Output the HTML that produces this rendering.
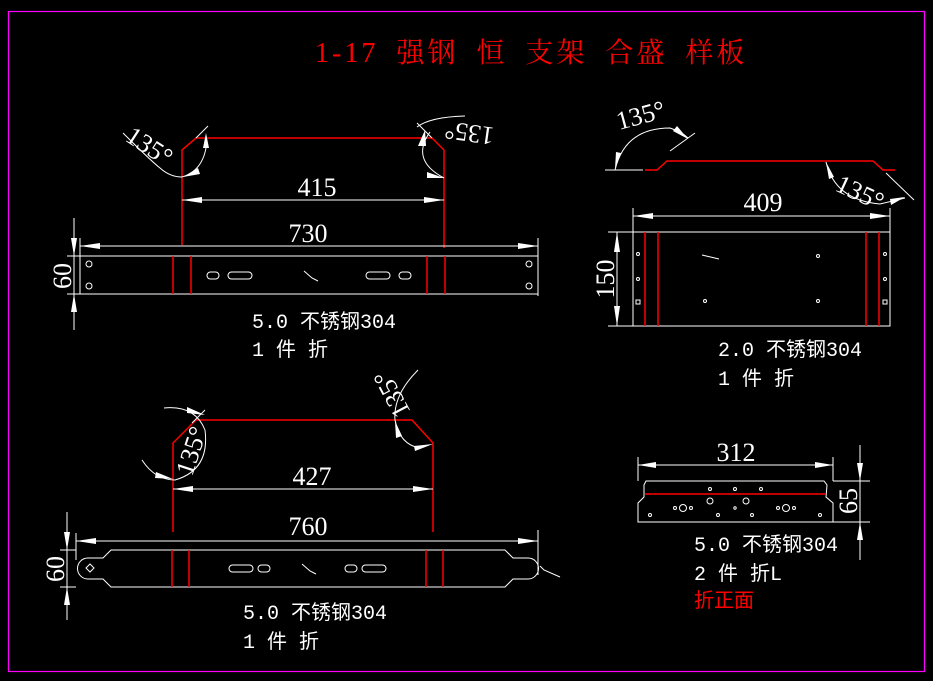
<!DOCTYPE html>
<html><head><meta charset="utf-8"><style>
html,body{margin:0;padding:0;background:#000;}
svg{display:block}
.w{stroke:#fff;stroke-width:1;fill:none}
.r{stroke:#f00;stroke-width:1.5;fill:none}
.d{font-family:"Liberation Serif",serif;font-size:26px;fill:#fff}
.n{font-family:"Liberation Mono","Noto Sans CJK SC",monospace;font-size:20px;fill:#fff}
.a{fill:#fff;stroke:none}
</style></head><body>
<svg width="933" height="681" viewBox="0 0 933 681" xmlns="http://www.w3.org/2000/svg">
<rect x="8.5" y="11.5" width="916" height="660" fill="none" stroke="#f0f" stroke-width="1.2"/>
<text x="315" y="62" font-family="Liberation Serif,'Noto Serif CJK SC',serif" font-size="28" letter-spacing="3" word-spacing="8" fill="#f00">1-17 强钢 恒 支架 合盛 样板</text>

<!-- Part 1 -->
<path class="r" d="M182,245 L182,150 L196,138 L432,138 L444,150 L444,248"/>
<line class="w" x1="182" y1="200" x2="444" y2="200"/>
<polygon class="a" points="182,200 202,197 202,203"/><polygon class="a" points="444,200 424,197 424,203"/>
<text class="d" x="317" y="196" text-anchor="middle">415</text>
<line class="w" x1="80" y1="246" x2="538" y2="246"/>
<line class="w" x1="80" y1="238" x2="80" y2="256"/><line class="w" x1="538" y1="238" x2="538" y2="296"/>
<polygon class="a" points="80,246 100,243 100,249"/><polygon class="a" points="538,246 518,243 518,249"/>
<text class="d" x="308" y="242" text-anchor="middle">730</text>
<rect class="w" x="80" y="256" width="458" height="38"/>
<line class="r" x1="173" y1="256" x2="173" y2="294"/><line class="r" x1="191" y1="256" x2="191" y2="294"/>
<line class="r" x1="427" y1="256" x2="427" y2="294"/><line class="r" x1="445" y1="256" x2="445" y2="294"/>
<circle class="w" cx="89" cy="264" r="3"/><circle class="w" cx="89" cy="286" r="3"/>
<circle class="w" cx="529" cy="264" r="3"/><circle class="w" cx="529" cy="286" r="3"/>
<rect class="w" x="207" y="272" width="12" height="7" rx="3.5"/><rect class="w" x="228" y="272" width="24" height="7" rx="3.5"/>
<rect class="w" x="366" y="272" width="24" height="7" rx="3.5"/><rect class="w" x="399" y="272" width="12" height="7" rx="3.5"/>
<path class="w" d="M304,271 L312,278 L318,281"/>
<line class="w" x1="67" y1="256" x2="80" y2="256"/><line class="w" x1="67" y1="294" x2="80" y2="294"/>
<line class="w" x1="74" y1="218" x2="74" y2="330"/>
<polygon class="a" points="74,256 71,238 77,238"/><polygon class="a" points="74,294 71,312 77,312"/>
<text class="d" transform="translate(71,276) rotate(-90)" text-anchor="middle">60</text>
<path class="w" d="M123,133 Q150,160 160,168 Q170,177 182,177"/>
<path class="w" d="M182,177 Q205,170 207,140"/>
<line class="w" x1="196" y1="138" x2="208" y2="126"/>
<polygon class="a" points="183,177 198,168 200,174"/><polygon class="a" points="206,133 203,148 209,148"/>
<text class="d" transform="translate(124,140) rotate(33)">135°</text>
<path class="w" d="M417,127 Q430,117 465,116"/>
<path class="w" d="M430,132 Q410,160 444,178"/>
<line class="w" x1="417" y1="123" x2="432" y2="138"/>
<polygon class="a" points="444,178 427,172 427,178"/><polygon class="a" points="425,130 418,146 426,146"/>
<text class="d" transform="translate(495,128) rotate(188)">135°</text>
<text class="n" x="252" y="328">5.0 不锈钢304</text>
<text class="n" x="252" y="356">1 件 折</text>

<!-- Part 2 -->
<line class="w" x1="605" y1="170" x2="643" y2="170"/>
<path class="r" d="M645,170 L657,170 L667,161 L873,161 L883,170 L895,170"/>
<path class="w" d="M615,170 Q625,128 670,128 Q682,132 688,138"/>
<line class="w" x1="670" y1="151" x2="695" y2="133"/>
<polygon class="a" points="615,169 616,152 621,153"/><polygon class="a" points="688,139 673,131 677,126"/>
<text class="d" transform="translate(619,130) rotate(-15)">135°</text>
<path class="w" d="M826,162 Q835,200 880,204 L905,198"/>
<line class="w" x1="886" y1="173" x2="914" y2="200"/>
<polygon class="a" points="826,162 829,179 834,177"/><polygon class="a" points="905,197 890,199 891,205"/>
<text class="d" transform="translate(834,190) rotate(25)">135°</text>
<line class="w" x1="633" y1="216" x2="890" y2="216"/>
<line class="w" x1="633" y1="208" x2="633" y2="232"/><line class="w" x1="890" y1="208" x2="890" y2="232"/>
<polygon class="a" points="633,216 653,213 653,219"/><polygon class="a" points="890,216 870,213 870,219"/>
<text class="d" x="763" y="211" text-anchor="middle">409</text>
<rect class="w" x="633" y="232" width="257" height="94"/>
<line class="r" x1="645" y1="232" x2="645" y2="326"/><line class="r" x1="658" y1="232" x2="658" y2="326"/>
<line class="r" x1="866" y1="232" x2="866" y2="326"/><line class="r" x1="879" y1="232" x2="879" y2="326"/>
<line class="w" x1="608" y1="232" x2="633" y2="232"/><line class="w" x1="608" y1="326" x2="633" y2="326"/>
<line class="w" x1="617" y1="232" x2="617" y2="326"/>
<polygon class="a" points="617,232 614,252 620,252"/><polygon class="a" points="617,326 614,306 620,306"/>
<text class="d" transform="translate(614,279) rotate(-90)" text-anchor="middle">150</text>
<g class="w"><circle cx="638" cy="254" r="1.5"/><circle cx="638" cy="279" r="1.5"/><rect x="636" y="300" width="4" height="4"/>
<circle cx="885" cy="254" r="1.5"/><circle cx="885" cy="279" r="1.5"/><rect x="883" y="300" width="4" height="4"/>
<circle cx="818" cy="256" r="1.5"/><circle cx="818" cy="301" r="1.5"/><circle cx="705" cy="301" r="1.5"/>
<line x1="702" y1="255" x2="719" y2="259"/></g>
<text class="n" x="718" y="356">2.0 不锈钢304</text>
<text class="n" x="718" y="385">1 件 折</text>

<!-- Part 3 -->
<path class="r" d="M173,532 L173,443 L196,420 L412,420 L433,443 L433,532"/>
<line class="w" x1="173" y1="489" x2="433" y2="489"/>
<polygon class="a" points="173,489 193,486 193,492"/><polygon class="a" points="433,489 413,486 413,492"/>
<text class="d" x="312" y="485" text-anchor="middle">427</text>
<line class="w" x1="76" y1="541" x2="538" y2="541"/>
<line class="w" x1="76" y1="533" x2="76" y2="560"/><line class="w" x1="538" y1="530" x2="538" y2="575"/>
<polygon class="a" points="76,541 96,538 96,544"/><polygon class="a" points="538,541 518,538 518,544"/>
<text class="d" x="308" y="535" text-anchor="middle">760</text>
<path class="w" d="M111,550 L505,550 L513,558 L528,558 A10.5,10.5 0 0 1 528,579 L513,579 L505,587 L111,587 L103,579 L88,579 A10.5,10.5 0 0 1 88,558 L103,558 Z"/>
<line class="r" x1="172" y1="550" x2="172" y2="587"/><line class="r" x1="189" y1="550" x2="189" y2="587"/>
<line class="r" x1="426" y1="550" x2="426" y2="587"/><line class="r" x1="443" y1="550" x2="443" y2="587"/>
<rect class="w" x="229" y="565" width="24" height="7" rx="3.5"/><rect class="w" x="258" y="565" width="12" height="7" rx="3.5"/>
<rect class="w" x="345" y="565" width="12" height="7" rx="3.5"/><rect class="w" x="362" y="565" width="24" height="7" rx="3.5"/>
<path class="w" d="M302,564 L310,571 L316,574"/>
<path class="w" d="M86,568 L90,564 L94,568 L90,572 Z"/><path class="w" d="M540,566 L544,570 L560,577"/>
<line class="w" x1="60" y1="550" x2="76" y2="550"/><line class="w" x1="60" y1="587" x2="76" y2="587"/>
<line class="w" x1="67" y1="512" x2="67" y2="620"/>
<polygon class="a" points="67,550 64,532 70,532"/><polygon class="a" points="67,587 64,605 70,605"/>
<text class="d" transform="translate(64,569) rotate(-90)" text-anchor="middle">60</text>
<path class="w" d="M164,408 Q195,405 205,430 Q210,470 175,480 Q155,480 142,460"/>
<line class="w" x1="192" y1="423" x2="205" y2="410"/>
<polygon class="a" points="205,415 187,407 187,413"/><polygon class="a" points="173,479 156,472 155,478"/>
<text class="d" transform="translate(192,477) rotate(-72)">135°</text>
<path class="w" d="M418,370 Q393,395 395,420 Q400,445 420,448"/>
<polygon class="a" points="433,444 414,446 415,451"/><polygon class="a" points="395,421 396,438 402,436"/>
<text class="d" transform="translate(411,412) rotate(-118)">135°</text>
<text class="n" x="243" y="619">5.0 不锈钢304</text>
<text class="n" x="243" y="648">1 件 折</text>

<!-- Part 4 -->
<line class="w" x1="638" y1="465" x2="833" y2="465"/>
<line class="w" x1="638" y1="457" x2="638" y2="481"/><line class="w" x1="833" y1="457" x2="833" y2="481"/>
<polygon class="a" points="638,465 656,462 656,468"/><polygon class="a" points="833,465 815,462 815,468"/>
<text class="d" x="736" y="461" text-anchor="middle">312</text>
<path class="w" d="M646,481 L824,481 L827,485 L826,497 L833,503 L833,522 L638,522 L638,503 L644,497 L644,485 Z"/>
<line class="r" x1="645" y1="494" x2="826" y2="494"/>
<g class="w"><circle cx="710" cy="501" r="3"/><circle cx="746" cy="501" r="3"/><circle cx="683" cy="508" r="3.5"/><circle cx="786" cy="508" r="3.5"/>
<circle cx="675" cy="508" r="1.5"/><circle cx="691" cy="508" r="1.5"/><circle cx="778" cy="508" r="1.5"/><circle cx="794" cy="508" r="1.5"/>
<circle cx="710" cy="489" r="1.5"/><circle cx="735" cy="489" r="1.5"/><circle cx="761" cy="489" r="1.5"/><circle cx="735" cy="508" r="1.2"/>
<circle cx="650" cy="515" r="1.5"/><circle cx="718" cy="515" r="1.5"/><circle cx="752" cy="515" r="1.5"/><circle cx="820" cy="515" r="1.5"/></g>
<line class="w" x1="833" y1="481" x2="870" y2="481"/><line class="w" x1="833" y1="522" x2="870" y2="522"/>
<line class="w" x1="860" y1="445" x2="860" y2="560"/>
<polygon class="a" points="860,481 857,463 863,463"/><polygon class="a" points="860,522 857,540 863,540"/>
<text class="d" transform="translate(857,501) rotate(-90)" text-anchor="middle">65</text>
<text class="n" x="694" y="551">5.0 不锈钢304</text>
<text class="n" x="694" y="580">2 件 折L</text>
<text class="n" x="694" y="607" style="fill:#f00">折正面</text>
</svg>
</body></html>
